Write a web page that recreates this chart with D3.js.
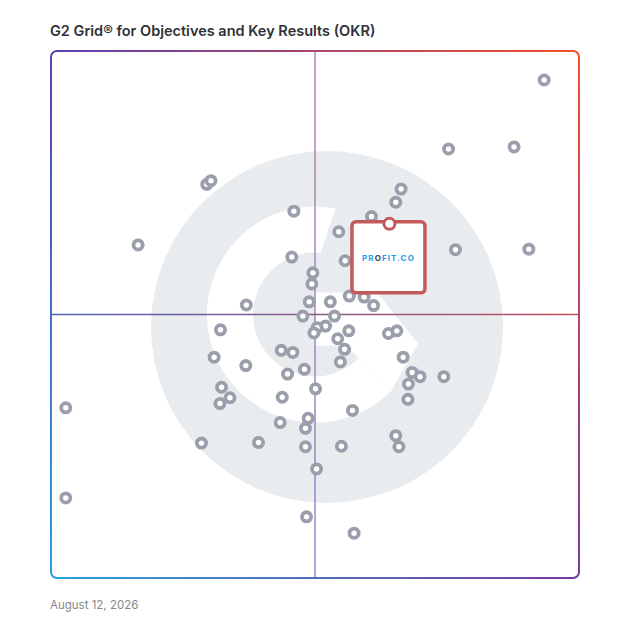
<html>
<script src='https://d3js.org/d3.v7.min.js'></script>
<style>
body { margin: 0; background: white; }
text { font-family: Inter, "Open Sans", sans-serif; }
</style>
<body>
<svg id="chart" width=628 height=628></svg>
<script>
// satisfaction (x) and market presence (y), 0-100
var satisfaction = [93.4, 87.7, 75.3, 29.5, 30.3, 66.3, 65.3, 46.0, 60.7, 54.5,
                    16.5, 76.6, 90.5, 45.6, 55.7, 49.6, 49.4, 56.5, 59.3, 61.1,
                    37.0, 48.9, 52.9, 47.7, 53.7, 52.0, 50.4, 49.8, 56.4, 32.1,
                    63.9, 65.5, 54.3, 55.6, 54.8, 43.6, 45.8, 30.9, 36.9, 66.7,
                    48.0, 44.8, 68.4, 69.9, 74.4, 67.7, 67.6, 32.3, 33.9, 32.0,
                    50.1, 43.8, 57.1, 48.7, 43.4, 48.2, 65.3, 65.9, 28.5, 39.3,
                    48.2, 55.0, 50.3, 48.4, 2.8, 2.8, 57.4];
var presence = [94.5, 81.8, 81.4, 74.7, 75.4, 73.8, 71.3, 69.6, 68.6, 65.7,
                63.2, 62.3, 62.4, 60.9, 60.2, 57.9, 55.8, 53.5, 53.3, 51.7,
                51.8, 52.4, 52.4, 49.7, 49.7, 47.8, 47.5, 46.5, 46.9, 47.1,
                46.4, 46.9, 45.4, 43.4, 41.0, 43.2, 42.8, 41.9, 40.3, 41.9,
                39.6, 38.7, 39.0, 38.2, 38.2, 36.8, 33.9, 36.2, 34.2, 33.1,
                35.9, 34.3, 31.8, 30.3, 29.5, 28.4, 27.0, 24.9, 25.6, 25.7,
                24.9, 25.0, 20.7, 11.6, 32.3, 15.2, 8.5];

var highlightName = ["PR", "O", "FIT.CO"];
var highlightSat = 64.1;
var highlightPres = 67.2;

var titleText = "G2 Grid\u00AE for Objectives and Key Results (OKR)";
var dateText = "August 12, 2026";

var svg = d3.select('#chart');

var x = d3.scaleLinear().domain([0, 100]).range([51, 579]);
var y = d3.scaleLinear().domain([0, 100]).range([578, 51]);

var cx = x(50), cy = y(50);

var defs = svg.append('defs');
function grad(id, x1, y1, x2, y2, c1, c2) {
    var g = defs.append('linearGradient').attr('id', id)
        .attr('gradientUnits', 'userSpaceOnUse')
        .attr('x1', x1).attr('y1', y1).attr('x2', x2).attr('y2', y2);
    g.append('stop').attr('offset', '0%').attr('stop-color', c1);
    g.append('stop').attr('offset', '100%').attr('stop-color', c2);
}
var cTL = '#5a3fb0', cTR = '#f44f29', cBL = '#2aa1dd', cBR = '#7a3a9f';
grad('gTop', x(0), 0, x(100), 0, cTL, cTR);
grad('gBottom', x(0), 0, x(100), 0, cBL, cBR);
grad('gLeft', 0, y(100), 0, y(0), cTL, cBL);
grad('gRight', 0, y(100), 0, y(0), cTR, cBR);
grad('gV', 0, y(100), 0, y(0), '#b07aa8', '#8a80cc');
grad('gH', x(0), 0, x(100), 0, '#5263b4', '#c24f5e');

// watermark
var wm = svg.append('g');
wm.append('circle')
    .attr('cx', cx + 12).attr('cy', cy + 12.5).attr('r', 176)
    .attr('fill', '#e9ecef');

var R = 108, r = 62;
function pt(rad, deg) {
    var a = deg * Math.PI / 180;
    return [cx + rad * Math.cos(a), cy + rad * Math.sin(a)];
}
var o1 = pt(R, -79), o2 = pt(R, 45), i2 = pt(r, 45), i1 = pt(r, -85);
wm.append('path')
    .attr('d', 'M' + o1 + 'A' + R + ',' + R + ' 0 1 0 ' + o2 +
               'L' + i2 + 'A' + r + ',' + r + ' 0 1 1 ' + i1 + 'Z')
    .attr('fill', 'white');
wm.append('path')
    .attr('d', d3.line()([[cx, cy - 22], [cx + 62, cy - 22], [cx + 103, cy + 29],
                          [o2[0], o2[1]], [cx + 31, cy + 31], [cx, cy + 31]]) + 'Z')
    .attr('fill', 'white');

// quadrant lines
svg.append('line')
    .attr('x1', cx).attr('x2', cx + 0.01).attr('y1', y(100)).attr('y2', y(0))
    .attr('stroke', 'url(#gV)').attr('stroke-width', 1.4);
svg.append('line')
    .attr('x1', x(0)).attr('x2', x(100)).attr('y1', cy).attr('y2', cy + 0.01)
    .attr('stroke', 'url(#gH)').attr('stroke-width', 1.4);

// border
var rr = 6, L = x(0), Rt = x(100), T = y(100), B = y(0);
var border = svg.append('g').attr('fill', 'none').attr('stroke-width', 2);
border.append('path')
    .attr('d', 'M' + L + ',' + (T + rr) + 'A' + rr + ',' + rr + ' 0 0 1 ' + (L + rr) + ',' + T +
               'H' + (Rt - rr) + 'A' + rr + ',' + rr + ' 0 0 1 ' + Rt + ',' + (T + rr))
    .attr('stroke', 'url(#gTop)');
border.append('path')
    .attr('d', 'M' + Rt + ',' + (T + rr) + 'V' + (B - rr))
    .attr('stroke', 'url(#gRight)');
border.append('path')
    .attr('d', 'M' + Rt + ',' + (B - rr) + 'A' + rr + ',' + rr + ' 0 0 1 ' + (Rt - rr) + ',' + B +
               'H' + (L + rr) + 'A' + rr + ',' + rr + ' 0 0 1 ' + L + ',' + (B - rr))
    .attr('stroke', 'url(#gBottom)');
border.append('path')
    .attr('d', 'M' + L + ',' + (B - rr) + 'V' + (T + rr))
    .attr('stroke', 'url(#gLeft)');

// products
svg.append('g')
    .selectAll('circle')
    .data(satisfaction)
    .enter()
    .append('circle')
    .attr('cx', function(d) { return x(d); })
    .attr('cy', function(d, i) { return y(presence[i]); })
    .attr('r', 4.6)
    .attr('fill', 'white')
    .attr('stroke', '#9a9fab')
    .attr('stroke-width', 3.8);

// highlighted product
var hx = x(highlightSat), hy = y(highlightPres);
var hl = svg.append('g');
hl.append('rect')
    .attr('x', hx - 37.5).attr('y', hy - 2)
    .attr('width', 73).attr('height', 71).attr('rx', 4)
    .attr('fill', 'white').attr('stroke', '#c25a5c').attr('stroke-width', 3.5);
hl.append('circle')
    .attr('cx', hx).attr('cy', hy).attr('r', 5.5)
    .attr('fill', 'white').attr('stroke', '#c25a5c').attr('stroke-width', 3);
var logo = hl.append('text')
    .attr('x', hx - 1).attr('y', hy + 37.5)
    .attr('text-anchor', 'middle')
    .style('font-size', '8px').style('font-weight', 700)
    .style('letter-spacing', '1.1px');
logo.selectAll('tspan').data(highlightName).enter().append('tspan')
    .attr('fill', function(d, i) { return i === 1 ? '#3a3f46' : '#1e9be9'; })
    .text(function(d) { return d; });

// title and date
svg.append('text')
    .attr('x', 50).attr('y', 36)
    .style('font-size', '14.5px').style('font-weight', 600)
    .attr('fill', '#2f3237')
    .text(titleText);
svg.append('text')
    .attr('x', 50).attr('y', 609)
    .style('font-size', '11.5px')
    .attr('fill', '#85888e')
    .text(dateText);
</script>
</body>
</html>
